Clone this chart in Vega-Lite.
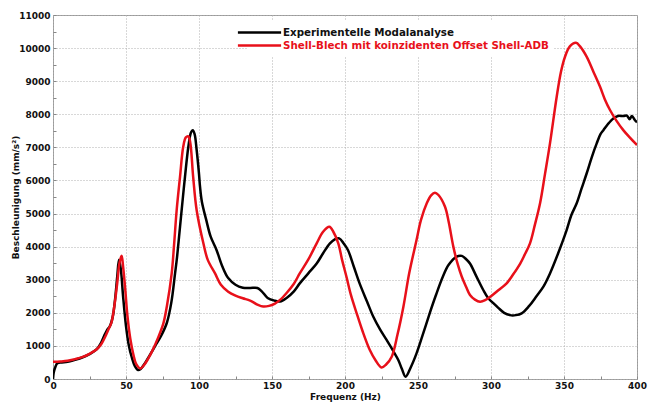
{
  "$schema": "https://vega.github.io/schema/vega-lite/v6.json",
  "width": 584,
  "height": 364,
  "autosize": {"type": "none"},
  "padding": {"left": 53, "top": 15, "right": 11, "bottom": 24},
  "background": "white",
  "config": {
    "view": {"stroke": "#9a9a9a", "strokeWidth": 1},
    "font": "DejaVu Sans",
    "axis": {
      "labelFont": "DejaVu Sans",
      "labelFontWeight": "bold",
      "labelFontSize": 9,
      "labelColor": "#111",
      "titleFont": "DejaVu Sans",
      "titleFontWeight": "bold",
      "titleFontSize": 9,
      "titleColor": "#111",
      "domain": false,
      "gridColor": "#b0b0b0",
      "gridDash": [1, 2],
      "gridWidth": 1,
      "tickColor": "#888",
      "tickSize": -3
    }
  },
  "data": {
    "values": [
      {"s": "Experimentelle Modalanalyse", "f": 0, "v": 0},
      {"s": "Experimentelle Modalanalyse", "f": 0.5, "v": 200},
      {"s": "Experimentelle Modalanalyse", "f": 1.5, "v": 350},
      {"s": "Experimentelle Modalanalyse", "f": 3, "v": 480},
      {"s": "Experimentelle Modalanalyse", "f": 6, "v": 500},
      {"s": "Experimentelle Modalanalyse", "f": 10, "v": 520},
      {"s": "Experimentelle Modalanalyse", "f": 15, "v": 580},
      {"s": "Experimentelle Modalanalyse", "f": 20, "v": 650},
      {"s": "Experimentelle Modalanalyse", "f": 25, "v": 750},
      {"s": "Experimentelle Modalanalyse", "f": 30, "v": 900},
      {"s": "Experimentelle Modalanalyse", "f": 33, "v": 1100},
      {"s": "Experimentelle Modalanalyse", "f": 35, "v": 1300},
      {"s": "Experimentelle Modalanalyse", "f": 37, "v": 1480},
      {"s": "Experimentelle Modalanalyse", "f": 39, "v": 1600},
      {"s": "Experimentelle Modalanalyse", "f": 41, "v": 1900},
      {"s": "Experimentelle Modalanalyse", "f": 42.5, "v": 2400},
      {"s": "Experimentelle Modalanalyse", "f": 44, "v": 3100},
      {"s": "Experimentelle Modalanalyse", "f": 45.2, "v": 3600},
      {"s": "Experimentelle Modalanalyse", "f": 46.5, "v": 3300},
      {"s": "Experimentelle Modalanalyse", "f": 48, "v": 2500},
      {"s": "Experimentelle Modalanalyse", "f": 50, "v": 1600},
      {"s": "Experimentelle Modalanalyse", "f": 52, "v": 1000},
      {"s": "Experimentelle Modalanalyse", "f": 54, "v": 650},
      {"s": "Experimentelle Modalanalyse", "f": 56, "v": 400},
      {"s": "Experimentelle Modalanalyse", "f": 58.4, "v": 270},
      {"s": "Experimentelle Modalanalyse", "f": 60, "v": 300},
      {"s": "Experimentelle Modalanalyse", "f": 63, "v": 480},
      {"s": "Experimentelle Modalanalyse", "f": 66, "v": 700},
      {"s": "Experimentelle Modalanalyse", "f": 70, "v": 1000},
      {"s": "Experimentelle Modalanalyse", "f": 74, "v": 1300},
      {"s": "Experimentelle Modalanalyse", "f": 78, "v": 1700},
      {"s": "Experimentelle Modalanalyse", "f": 81, "v": 2300},
      {"s": "Experimentelle Modalanalyse", "f": 83.6, "v": 3190},
      {"s": "Experimentelle Modalanalyse", "f": 85, "v": 3700},
      {"s": "Experimentelle Modalanalyse", "f": 87, "v": 4600},
      {"s": "Experimentelle Modalanalyse", "f": 89, "v": 5500},
      {"s": "Experimentelle Modalanalyse", "f": 90.4, "v": 6110},
      {"s": "Experimentelle Modalanalyse", "f": 92.7, "v": 7020},
      {"s": "Experimentelle Modalanalyse", "f": 94.5, "v": 7450},
      {"s": "Experimentelle Modalanalyse", "f": 95.7, "v": 7520},
      {"s": "Experimentelle Modalanalyse", "f": 97, "v": 7400},
      {"s": "Experimentelle Modalanalyse", "f": 98.4, "v": 6920},
      {"s": "Experimentelle Modalanalyse", "f": 100, "v": 6200},
      {"s": "Experimentelle Modalanalyse", "f": 100.7, "v": 5810},
      {"s": "Experimentelle Modalanalyse", "f": 102, "v": 5350},
      {"s": "Experimentelle Modalanalyse", "f": 105, "v": 4800},
      {"s": "Experimentelle Modalanalyse", "f": 108, "v": 4300},
      {"s": "Experimentelle Modalanalyse", "f": 112, "v": 3900},
      {"s": "Experimentelle Modalanalyse", "f": 116, "v": 3400},
      {"s": "Experimentelle Modalanalyse", "f": 120, "v": 3050},
      {"s": "Experimentelle Modalanalyse", "f": 125, "v": 2850},
      {"s": "Experimentelle Modalanalyse", "f": 130, "v": 2760},
      {"s": "Experimentelle Modalanalyse", "f": 135, "v": 2750},
      {"s": "Experimentelle Modalanalyse", "f": 140, "v": 2750},
      {"s": "Experimentelle Modalanalyse", "f": 143, "v": 2650},
      {"s": "Experimentelle Modalanalyse", "f": 147, "v": 2450},
      {"s": "Experimentelle Modalanalyse", "f": 152, "v": 2365},
      {"s": "Experimentelle Modalanalyse", "f": 155.5, "v": 2340},
      {"s": "Experimentelle Modalanalyse", "f": 160, "v": 2450},
      {"s": "Experimentelle Modalanalyse", "f": 165, "v": 2650},
      {"s": "Experimentelle Modalanalyse", "f": 169, "v": 2890},
      {"s": "Experimentelle Modalanalyse", "f": 175, "v": 3200},
      {"s": "Experimentelle Modalanalyse", "f": 180.6, "v": 3490},
      {"s": "Experimentelle Modalanalyse", "f": 185, "v": 3800},
      {"s": "Experimentelle Modalanalyse", "f": 189.7, "v": 4100},
      {"s": "Experimentelle Modalanalyse", "f": 193, "v": 4220},
      {"s": "Experimentelle Modalanalyse", "f": 196, "v": 4250},
      {"s": "Experimentelle Modalanalyse", "f": 199, "v": 4100},
      {"s": "Experimentelle Modalanalyse", "f": 202, "v": 3900},
      {"s": "Experimentelle Modalanalyse", "f": 206, "v": 3400},
      {"s": "Experimentelle Modalanalyse", "f": 210, "v": 2890},
      {"s": "Experimentelle Modalanalyse", "f": 215, "v": 2350},
      {"s": "Experimentelle Modalanalyse", "f": 219.4, "v": 1880},
      {"s": "Experimentelle Modalanalyse", "f": 224, "v": 1500},
      {"s": "Experimentelle Modalanalyse", "f": 228.5, "v": 1180},
      {"s": "Experimentelle Modalanalyse", "f": 233, "v": 850},
      {"s": "Experimentelle Modalanalyse", "f": 236.5, "v": 575},
      {"s": "Experimentelle Modalanalyse", "f": 239, "v": 300},
      {"s": "Experimentelle Modalanalyse", "f": 241.5, "v": 70},
      {"s": "Experimentelle Modalanalyse", "f": 245, "v": 350},
      {"s": "Experimentelle Modalanalyse", "f": 249, "v": 775},
      {"s": "Experimentelle Modalanalyse", "f": 253, "v": 1300},
      {"s": "Experimentelle Modalanalyse", "f": 258, "v": 1985},
      {"s": "Experimentelle Modalanalyse", "f": 262, "v": 2500},
      {"s": "Experimentelle Modalanalyse", "f": 267, "v": 3090},
      {"s": "Experimentelle Modalanalyse", "f": 271, "v": 3450},
      {"s": "Experimentelle Modalanalyse", "f": 276.5, "v": 3700},
      {"s": "Experimentelle Modalanalyse", "f": 280, "v": 3720},
      {"s": "Experimentelle Modalanalyse", "f": 283, "v": 3620},
      {"s": "Experimentelle Modalanalyse", "f": 285.6, "v": 3490},
      {"s": "Experimentelle Modalanalyse", "f": 290, "v": 3100},
      {"s": "Experimentelle Modalanalyse", "f": 294.7, "v": 2690},
      {"s": "Experimentelle Modalanalyse", "f": 298, "v": 2450},
      {"s": "Experimentelle Modalanalyse", "f": 301.6, "v": 2290},
      {"s": "Experimentelle Modalanalyse", "f": 305, "v": 2150},
      {"s": "Experimentelle Modalanalyse", "f": 309, "v": 2000},
      {"s": "Experimentelle Modalanalyse", "f": 313, "v": 1930},
      {"s": "Experimentelle Modalanalyse", "f": 317, "v": 1930},
      {"s": "Experimentelle Modalanalyse", "f": 321, "v": 1985},
      {"s": "Experimentelle Modalanalyse", "f": 326, "v": 2200},
      {"s": "Experimentelle Modalanalyse", "f": 331, "v": 2490},
      {"s": "Experimentelle Modalanalyse", "f": 336, "v": 2800},
      {"s": "Experimentelle Modalanalyse", "f": 340.4, "v": 3190},
      {"s": "Experimentelle Modalanalyse", "f": 346, "v": 3800},
      {"s": "Experimentelle Modalanalyse", "f": 351.8, "v": 4500},
      {"s": "Experimentelle Modalanalyse", "f": 355, "v": 4950},
      {"s": "Experimentelle Modalanalyse", "f": 358.7, "v": 5310},
      {"s": "Experimentelle Modalanalyse", "f": 362, "v": 5750},
      {"s": "Experimentelle Modalanalyse", "f": 365.5, "v": 6210},
      {"s": "Experimentelle Modalanalyse", "f": 369, "v": 6700},
      {"s": "Experimentelle Modalanalyse", "f": 372.4, "v": 7120},
      {"s": "Experimentelle Modalanalyse", "f": 375, "v": 7400},
      {"s": "Experimentelle Modalanalyse", "f": 377, "v": 7520},
      {"s": "Experimentelle Modalanalyse", "f": 380, "v": 7700},
      {"s": "Experimentelle Modalanalyse", "f": 383.8, "v": 7875},
      {"s": "Experimentelle Modalanalyse", "f": 387, "v": 7950},
      {"s": "Experimentelle Modalanalyse", "f": 390.6, "v": 7945},
      {"s": "Experimentelle Modalanalyse", "f": 393, "v": 7960},
      {"s": "Experimentelle Modalanalyse", "f": 395, "v": 7850},
      {"s": "Experimentelle Modalanalyse", "f": 396.5, "v": 7950},
      {"s": "Experimentelle Modalanalyse", "f": 398.6, "v": 7820},
      {"s": "Experimentelle Modalanalyse", "f": 400, "v": 7760},
      {"s": "Shell-Blech mit koinzidenten Offset Shell-ADB", "f": 0, "v": 520},
      {"s": "Shell-Blech mit koinzidenten Offset Shell-ADB", "f": 5, "v": 530},
      {"s": "Shell-Blech mit koinzidenten Offset Shell-ADB", "f": 10, "v": 550},
      {"s": "Shell-Blech mit koinzidenten Offset Shell-ADB", "f": 15, "v": 600},
      {"s": "Shell-Blech mit koinzidenten Offset Shell-ADB", "f": 20, "v": 660},
      {"s": "Shell-Blech mit koinzidenten Offset Shell-ADB", "f": 25, "v": 760},
      {"s": "Shell-Blech mit koinzidenten Offset Shell-ADB", "f": 30, "v": 900},
      {"s": "Shell-Blech mit koinzidenten Offset Shell-ADB", "f": 33, "v": 1050},
      {"s": "Shell-Blech mit koinzidenten Offset Shell-ADB", "f": 36, "v": 1300},
      {"s": "Shell-Blech mit koinzidenten Offset Shell-ADB", "f": 38, "v": 1500},
      {"s": "Shell-Blech mit koinzidenten Offset Shell-ADB", "f": 40, "v": 1700},
      {"s": "Shell-Blech mit koinzidenten Offset Shell-ADB", "f": 42, "v": 2200},
      {"s": "Shell-Blech mit koinzidenten Offset Shell-ADB", "f": 44, "v": 2900},
      {"s": "Shell-Blech mit koinzidenten Offset Shell-ADB", "f": 45.5, "v": 3500},
      {"s": "Shell-Blech mit koinzidenten Offset Shell-ADB", "f": 47, "v": 3725},
      {"s": "Shell-Blech mit koinzidenten Offset Shell-ADB", "f": 48, "v": 3400},
      {"s": "Shell-Blech mit koinzidenten Offset Shell-ADB", "f": 49.5, "v": 2700},
      {"s": "Shell-Blech mit koinzidenten Offset Shell-ADB", "f": 51, "v": 1900},
      {"s": "Shell-Blech mit koinzidenten Offset Shell-ADB", "f": 53, "v": 1200},
      {"s": "Shell-Blech mit koinzidenten Offset Shell-ADB", "f": 55, "v": 750},
      {"s": "Shell-Blech mit koinzidenten Offset Shell-ADB", "f": 57, "v": 450},
      {"s": "Shell-Blech mit koinzidenten Offset Shell-ADB", "f": 59.8, "v": 320},
      {"s": "Shell-Blech mit koinzidenten Offset Shell-ADB", "f": 62, "v": 400},
      {"s": "Shell-Blech mit koinzidenten Offset Shell-ADB", "f": 65, "v": 600},
      {"s": "Shell-Blech mit koinzidenten Offset Shell-ADB", "f": 68, "v": 850},
      {"s": "Shell-Blech mit koinzidenten Offset Shell-ADB", "f": 72, "v": 1250},
      {"s": "Shell-Blech mit koinzidenten Offset Shell-ADB", "f": 75.6, "v": 1680},
      {"s": "Shell-Blech mit koinzidenten Offset Shell-ADB", "f": 78, "v": 2200},
      {"s": "Shell-Blech mit koinzidenten Offset Shell-ADB", "f": 81.3, "v": 3190},
      {"s": "Shell-Blech mit koinzidenten Offset Shell-ADB", "f": 83, "v": 4100},
      {"s": "Shell-Blech mit koinzidenten Offset Shell-ADB", "f": 84.7, "v": 5100},
      {"s": "Shell-Blech mit koinzidenten Offset Shell-ADB", "f": 87, "v": 6110},
      {"s": "Shell-Blech mit koinzidenten Offset Shell-ADB", "f": 89.2, "v": 7020},
      {"s": "Shell-Blech mit koinzidenten Offset Shell-ADB", "f": 91, "v": 7300},
      {"s": "Shell-Blech mit koinzidenten Offset Shell-ADB", "f": 92.7, "v": 7330},
      {"s": "Shell-Blech mit koinzidenten Offset Shell-ADB", "f": 94, "v": 7150},
      {"s": "Shell-Blech mit koinzidenten Offset Shell-ADB", "f": 96, "v": 6110},
      {"s": "Shell-Blech mit koinzidenten Offset Shell-ADB", "f": 98.4, "v": 5100},
      {"s": "Shell-Blech mit koinzidenten Offset Shell-ADB", "f": 103, "v": 4100},
      {"s": "Shell-Blech mit koinzidenten Offset Shell-ADB", "f": 106, "v": 3600},
      {"s": "Shell-Blech mit koinzidenten Offset Shell-ADB", "f": 111, "v": 3190},
      {"s": "Shell-Blech mit koinzidenten Offset Shell-ADB", "f": 115, "v": 2850},
      {"s": "Shell-Blech mit koinzidenten Offset Shell-ADB", "f": 120, "v": 2640},
      {"s": "Shell-Blech mit koinzidenten Offset Shell-ADB", "f": 125, "v": 2520},
      {"s": "Shell-Blech mit koinzidenten Offset Shell-ADB", "f": 130, "v": 2440},
      {"s": "Shell-Blech mit koinzidenten Offset Shell-ADB", "f": 135, "v": 2370},
      {"s": "Shell-Blech mit koinzidenten Offset Shell-ADB", "f": 140, "v": 2250},
      {"s": "Shell-Blech mit koinzidenten Offset Shell-ADB", "f": 144, "v": 2190},
      {"s": "Shell-Blech mit koinzidenten Offset Shell-ADB", "f": 148, "v": 2210},
      {"s": "Shell-Blech mit koinzidenten Offset Shell-ADB", "f": 152, "v": 2280},
      {"s": "Shell-Blech mit koinzidenten Offset Shell-ADB", "f": 155.5, "v": 2390},
      {"s": "Shell-Blech mit koinzidenten Offset Shell-ADB", "f": 160, "v": 2600},
      {"s": "Shell-Blech mit koinzidenten Offset Shell-ADB", "f": 165, "v": 2880},
      {"s": "Shell-Blech mit koinzidenten Offset Shell-ADB", "f": 169, "v": 3190},
      {"s": "Shell-Blech mit koinzidenten Offset Shell-ADB", "f": 175, "v": 3620},
      {"s": "Shell-Blech mit koinzidenten Offset Shell-ADB", "f": 180.6, "v": 4100},
      {"s": "Shell-Blech mit koinzidenten Offset Shell-ADB", "f": 185, "v": 4450},
      {"s": "Shell-Blech mit koinzidenten Offset Shell-ADB", "f": 189.3, "v": 4600},
      {"s": "Shell-Blech mit koinzidenten Offset Shell-ADB", "f": 192, "v": 4450},
      {"s": "Shell-Blech mit koinzidenten Offset Shell-ADB", "f": 195.4, "v": 4100},
      {"s": "Shell-Blech mit koinzidenten Offset Shell-ADB", "f": 198, "v": 3600},
      {"s": "Shell-Blech mit koinzidenten Offset Shell-ADB", "f": 201, "v": 3090},
      {"s": "Shell-Blech mit koinzidenten Offset Shell-ADB", "f": 204, "v": 2550},
      {"s": "Shell-Blech mit koinzidenten Offset Shell-ADB", "f": 208, "v": 1985},
      {"s": "Shell-Blech mit koinzidenten Offset Shell-ADB", "f": 212, "v": 1450},
      {"s": "Shell-Blech mit koinzidenten Offset Shell-ADB", "f": 217, "v": 876},
      {"s": "Shell-Blech mit koinzidenten Offset Shell-ADB", "f": 221, "v": 560},
      {"s": "Shell-Blech mit koinzidenten Offset Shell-ADB", "f": 225, "v": 350},
      {"s": "Shell-Blech mit koinzidenten Offset Shell-ADB", "f": 228, "v": 430},
      {"s": "Shell-Blech mit koinzidenten Offset Shell-ADB", "f": 232, "v": 675},
      {"s": "Shell-Blech mit koinzidenten Offset Shell-ADB", "f": 236, "v": 1350},
      {"s": "Shell-Blech mit koinzidenten Offset Shell-ADB", "f": 240, "v": 2185},
      {"s": "Shell-Blech mit koinzidenten Offset Shell-ADB", "f": 244, "v": 3200},
      {"s": "Shell-Blech mit koinzidenten Offset Shell-ADB", "f": 249, "v": 4200},
      {"s": "Shell-Blech mit koinzidenten Offset Shell-ADB", "f": 252, "v": 4800},
      {"s": "Shell-Blech mit koinzidenten Offset Shell-ADB", "f": 256, "v": 5310},
      {"s": "Shell-Blech mit koinzidenten Offset Shell-ADB", "f": 259, "v": 5550},
      {"s": "Shell-Blech mit koinzidenten Offset Shell-ADB", "f": 261.6, "v": 5630},
      {"s": "Shell-Blech mit koinzidenten Offset Shell-ADB", "f": 264, "v": 5560},
      {"s": "Shell-Blech mit koinzidenten Offset Shell-ADB", "f": 268.5, "v": 5205},
      {"s": "Shell-Blech mit koinzidenten Offset Shell-ADB", "f": 271, "v": 4750},
      {"s": "Shell-Blech mit koinzidenten Offset Shell-ADB", "f": 274.2, "v": 4000},
      {"s": "Shell-Blech mit koinzidenten Offset Shell-ADB", "f": 277, "v": 3500},
      {"s": "Shell-Blech mit koinzidenten Offset Shell-ADB", "f": 280, "v": 3090},
      {"s": "Shell-Blech mit koinzidenten Offset Shell-ADB", "f": 283, "v": 2780},
      {"s": "Shell-Blech mit koinzidenten Offset Shell-ADB", "f": 285.6, "v": 2540},
      {"s": "Shell-Blech mit koinzidenten Offset Shell-ADB", "f": 289, "v": 2400},
      {"s": "Shell-Blech mit koinzidenten Offset Shell-ADB", "f": 292.5, "v": 2335},
      {"s": "Shell-Blech mit koinzidenten Offset Shell-ADB", "f": 296, "v": 2380},
      {"s": "Shell-Blech mit koinzidenten Offset Shell-ADB", "f": 300, "v": 2500},
      {"s": "Shell-Blech mit koinzidenten Offset Shell-ADB", "f": 305, "v": 2680},
      {"s": "Shell-Blech mit koinzidenten Offset Shell-ADB", "f": 310.7, "v": 2890},
      {"s": "Shell-Blech mit koinzidenten Offset Shell-ADB", "f": 315, "v": 3150},
      {"s": "Shell-Blech mit koinzidenten Offset Shell-ADB", "f": 320, "v": 3490},
      {"s": "Shell-Blech mit koinzidenten Offset Shell-ADB", "f": 323, "v": 3750},
      {"s": "Shell-Blech mit koinzidenten Offset Shell-ADB", "f": 326.7, "v": 4100},
      {"s": "Shell-Blech mit koinzidenten Offset Shell-ADB", "f": 330, "v": 4650},
      {"s": "Shell-Blech mit koinzidenten Offset Shell-ADB", "f": 333.6, "v": 5310},
      {"s": "Shell-Blech mit koinzidenten Offset Shell-ADB", "f": 337, "v": 6200},
      {"s": "Shell-Blech mit koinzidenten Offset Shell-ADB", "f": 340.4, "v": 7120},
      {"s": "Shell-Blech mit koinzidenten Offset Shell-ADB", "f": 345, "v": 8530},
      {"s": "Shell-Blech mit koinzidenten Offset Shell-ADB", "f": 348, "v": 9300},
      {"s": "Shell-Blech mit koinzidenten Offset Shell-ADB", "f": 350.7, "v": 9740},
      {"s": "Shell-Blech mit koinzidenten Offset Shell-ADB", "f": 354, "v": 10050},
      {"s": "Shell-Blech mit koinzidenten Offset Shell-ADB", "f": 358.2, "v": 10160},
      {"s": "Shell-Blech mit koinzidenten Offset Shell-ADB", "f": 361, "v": 10050},
      {"s": "Shell-Blech mit koinzidenten Offset Shell-ADB", "f": 365.5, "v": 9740},
      {"s": "Shell-Blech mit koinzidenten Offset Shell-ADB", "f": 370, "v": 9300},
      {"s": "Shell-Blech mit koinzidenten Offset Shell-ADB", "f": 374.7, "v": 8830},
      {"s": "Shell-Blech mit koinzidenten Offset Shell-ADB", "f": 378, "v": 8450},
      {"s": "Shell-Blech mit koinzidenten Offset Shell-ADB", "f": 381.5, "v": 8130},
      {"s": "Shell-Blech mit koinzidenten Offset Shell-ADB", "f": 386, "v": 7800},
      {"s": "Shell-Blech mit koinzidenten Offset Shell-ADB", "f": 390.6, "v": 7520},
      {"s": "Shell-Blech mit koinzidenten Offset Shell-ADB", "f": 395, "v": 7300},
      {"s": "Shell-Blech mit koinzidenten Offset Shell-ADB", "f": 400, "v": 7070}
    ]
  },
  "mark": {"type": "line", "strokeWidth": 2.5, "interpolate": "catmull-rom", "clip": true},
  "encoding": {
    "x": {
      "field": "f",
      "type": "quantitative",
      "title": "Frequenz (Hz)",
      "scale": {"domain": [0, 400], "nice": false},
      "axis": {
        "values": [0, 25, 50, 75, 100, 125, 150, 175, 200, 225, 250, 275, 300, 325, 350, 375, 400],
        "labelExpr": "datum.value % 50 == 0 ? datum.label : ''",
        "gridOpacity": {"condition": {"test": "datum.value % 50 == 0", "value": 1}, "value": 0},
        "labelPadding": 5,
        "titlePadding": 2,
        "labelFlush": false
      }
    },
    "y": {
      "field": "v",
      "type": "quantitative",
      "title": "Beschleunigung (mm/s²)",
      "scale": {"domain": [0, 11000], "nice": false},
      "axis": {
        "values": [0, 500, 1000, 1500, 2000, 2500, 3000, 3500, 4000, 4500, 5000, 5500, 6000, 6500, 7000, 7500, 8000, 8500, 9000, 9500, 10000, 10500, 11000],
        "labelExpr": "datum.value % 1000 == 0 ? datum.label : ''",
        "gridOpacity": {"condition": {"test": "datum.value % 1000 == 0", "value": 1}, "value": 0},
        "format": "d",
        "labelPadding": 6,
        "titleX": -38,
        "titleBaseline": "middle",
        "labelFlush": false
      }
    },
    "color": {
      "field": "s",
      "type": "nominal",
      "scale": {
        "domain": ["Experimentelle Modalanalyse", "Shell-Blech mit koinzidenten Offset Shell-ADB"],
        "range": ["#000000", "#e8101a"]
      },
      "legend": {
        "title": null,
        "orient": "none",
        "legendX": 194,
        "legendY": 5,
        "padding": 5,
        "fillColor": "white",
        "symbolType": "M-3.6,0H3.6",
        "symbolSize": 144,
        "symbolStrokeWidth": 2.5,
        "symbolFillColor": "transparent",
        "labelFont": "DejaVu Sans",
        "labelFontWeight": "bold",
        "labelFontSize": 10.3,
        "labelLimit": 500,
        "rowPadding": 0,
        "labelOffset": 16,
        "encode": {
          "labels": {"update": {"fill": {"signal": "datum.value == 'Experimentelle Modalanalyse' ? '#111111' : '#e8101a'"}}}
        }
      }
    }
  }
}
